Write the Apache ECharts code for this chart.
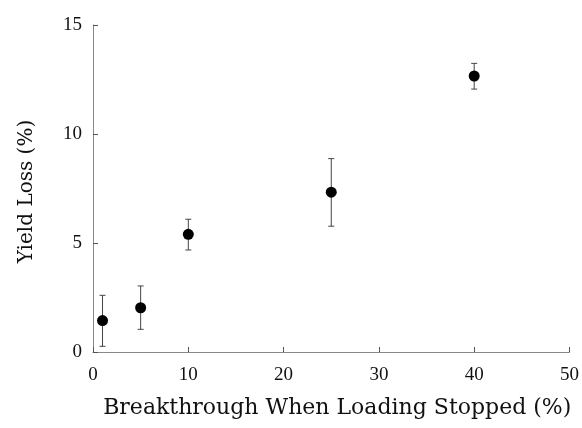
<!DOCTYPE html>
<html>
<head>
<meta charset="utf-8">
<script src="https://cdn.jsdelivr.net/npm/echarts@6/dist/echarts.min.js"></script>
<style>html,body{margin:0;padding:0;background:#fff}#c{width:582px;height:428px}</style>
</head>
<body>
<div id="c"></div>
<script>
var breakthrough = [1, 5, 10, 25, 40];
var yieldLoss = [1.44, 2.03, 5.40, 7.33, 12.66];
var errLow = [0.26, 1.04, 4.68, 5.77, 12.06];
var errHigh = [2.60, 3.03, 6.09, 8.87, 13.24];
var xTicks = [0, 10, 20, 30, 40, 50];
var yTicks = [0, 5, 10, 15];

var titleFont = 'DejaVu Serif';
var labelFont = 'Liberation Serif';
var chart = echarts.init(document.getElementById('c'), null, {renderer: 'canvas'});
var pts = breakthrough.map(function (x, i) { return [x, yieldLoss[i]]; });
var errs = breakthrough.map(function (x, i) { return [x, errLow[i], errHigh[i]]; });

chart.setOption({
  animation: false,
  backgroundColor: '#fff',
  grid: {left: 93, right: 10, top: 25, bottom: 76},
  xAxis: {
    type: 'value', min: xTicks[0], max: xTicks[xTicks.length - 1], interval: 10,
    name: 'Breakthrough When Loading Stopped (%)', nameLocation: 'middle', nameGap: 45,
    nameTextStyle: {fontFamily: titleFont, fontSize: 22, color: '#111', padding: [0, 0, 0, 12]},
    axisLine: {lineStyle: {color: '#888', width: 1}},
    axisTick: {inside: true, length: 5, lineStyle: {color: '#555'}},
    axisLabel: {fontFamily: labelFont, fontSize: 19, color: '#111', margin: 14},
    splitLine: {show: false}
  },
  yAxis: {
    type: 'value', min: yTicks[0], max: yTicks[yTicks.length - 1], interval: 5,
    name: 'Yield Loss (%)', nameLocation: 'middle', nameGap: 56,
    nameTextStyle: {fontFamily: titleFont, fontSize: 20, color: '#111', padding: [0, 6, 0, 0]},
    axisLine: {show: true, lineStyle: {color: '#888', width: 1}},
    axisTick: {show: true, inside: true, length: 5, lineStyle: {color: '#555'}},
    axisLabel: {fontFamily: labelFont, fontSize: 19, color: '#111', margin: 11},
    splitLine: {show: false}
  },
  series: [
    {
      type: 'custom',
      data: errs,
      z: 1,
      renderItem: function (params, api) {
        var x = api.value(0);
        var lo = api.coord([x, api.value(1)]);
        var hi = api.coord([x, api.value(2)]);
        var w = 3;
        var st = {stroke: '#444', lineWidth: 1};
        return {
          type: 'group',
          children: [
            {type: 'line', shape: {x1: lo[0], y1: lo[1], x2: hi[0], y2: hi[1]}, style: st},
            {type: 'line', shape: {x1: lo[0] - w, y1: lo[1], x2: lo[0] + w, y2: lo[1]}, style: st},
            {type: 'line', shape: {x1: hi[0] - w, y1: hi[1], x2: hi[0] + w, y2: hi[1]}, style: st}
          ]
        };
      }
    },
    {
      type: 'scatter',
      data: pts,
      z: 2,
      symbol: 'circle',
      symbolSize: 11,
      itemStyle: {color: '#000', opacity: 1}
    }
  ]
});
</script>
</body>
</html>
